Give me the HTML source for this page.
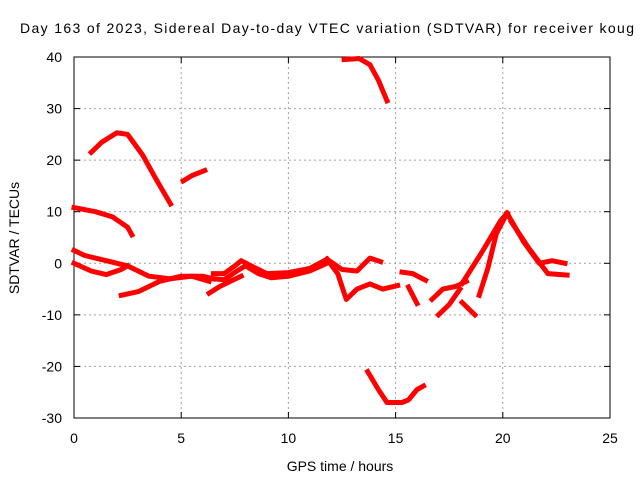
<!DOCTYPE html>
<html><head><meta charset="utf-8"><style>body{margin:0;background:#fff}svg{display:block;font-family:"Liberation Sans",sans-serif}</style></head>
<body>
<svg id="chart" width="640" height="480">
<rect width="640" height="480" fill="#fff"/>
<g id="grid"></g>
<g id="axes"></g>
<g id="series"></g>
<text x="327" y="33" text-anchor="middle" font-size="14" textLength="614">Day 163 of 2023, Sidereal Day-to-day VTEC variation (SDTVAR) for receiver koug</text>
<text x="340" y="471" text-anchor="middle" font-size="14">GPS time / hours</text>
<text transform="translate(19,238) rotate(-90)" text-anchor="middle" font-size="14">SDTVAR / TECUs</text>
</svg>
<script>
const xTicks=[0,5,10,15,20,25];
const yTicks=[-30,-20,-10,0,10,20,30,40];
const trackHours=[
[0.8,1.3,2.0,2.5,3.2,3.8,4.5],
[5.1,5.5,6.1],
[12.6,13.3,13.8,14.2,14.6],
[0,1,1.8,2.5,2.7],
[0,0.5,1.5,2.5,3.5,4.5,5.5,6.3],
[0,0.8,1.5,2.2,2.5],
[2.2,3,4,5,6,6.5],
[6.5,7,7.5,7.8,8.5,9,10,11,11.8],
[6.5,7,7.6,8,8.6,9.2,10,11,11.8],
[6.3,6.8,7.3,7.8],
[11.8,12.3,12.7,13.2,13.8,14.4,15.1],
[11.8,12.5,13.2,13.8,14.3],
[15.3,15.8,16.4],
[15.6,16.0],
[16.7,17.2,17.8,18.3],
[17.0,17.5,18.0],
[18.1,18.7],
[18.1,19.0,19.9,20.2],
[18.9,19.3,19.7,20.2],
[20.2,21.0,21.7,22.3,22.9],
[20.4,21.2,22.1,23.0],
[13.7,14.2,14.6,15.3,15.6,16.0,16.3]
];
const trackValues=[
[21.5,23.5,25.3,25,21,16.5,11.5],
[16,17,18],
[39.5,39.7,38.5,35.5,31.5],
[10.8,10,9,7,5.5],
[2.5,1.5,0.5,-0.5,-2.5,-3,-2.5,-3.5],
[0,-1.5,-2.2,-1.2,-0.5],
[-6.2,-5.5,-3.5,-2.5,-2.5,-3],
[-2,-2,-0.5,0.5,-1,-2,-1.8,-1,0.8],
[-3,-3.2,-1.5,-0.5,-2,-2.8,-2.5,-1.5,0],
[-5.8,-4.5,-3.5,-2.5],
[0.8,-2,-7,-5,-4,-5,-4.3],
[0.8,-1.2,-1.5,1,0.3],
[-1.7,-2,-3.3],
[-4.6,-7.8],
[-7,-5,-4.5,-3.5],
[-10,-8,-5],
[-7.6,-10],
[-3.9,2,8.3,9.7],
[-6.2,-1,5.8,9.7],
[9.7,4,0,0.5,0],
[8,3,-2,-2.3],
[-21,-24.5,-27,-27,-26.5,-24.5,-23.8]
];
const X0=74,X1=610,Y0=418,Y1=57;
const xs=h=>X0+(h-0)/(25-0)*(X1-X0);
const ys=v=>Y0-(v+30)/70*(Y0-Y1);
const NS='http://www.w3.org/2000/svg';
const grid=document.getElementById('grid'),axes=document.getElementById('axes'),ser=document.getElementById('series');
function mk(tag,at,parent){const e=document.createElementNS(NS,tag);for(const k in at)e.setAttribute(k,at[k]);parent.appendChild(e);return e;}
xTicks.forEach(t=>{const x=xs(t);
 if(t>0&&t<25){const l=mk('line',{x1:x,x2:x,y1:Y1,y2:Y0,stroke:'#a0a0a0','stroke-dasharray':'2,3'},grid);}
 mk('line',{x1:x,x2:x,y1:Y0,y2:Y0-6,stroke:'#000'},axes);mk('line',{x1:x,x2:x,y1:Y1,y2:Y1+6,stroke:'#000'},axes);
 const tx=mk('text',{x:x,y:443,'text-anchor':'middle','font-size':14},axes);tx.textContent=t;
 });
yTicks.forEach(t=>{const y=ys(t);
 if(t>-30&&t<40){const l=mk('line',{x1:X0,x2:X1,y1:y,y2:y,stroke:'#a0a0a0','stroke-dasharray':'2,3'},grid);}
 mk('line',{x1:X0,x2:X0+6,y1:y,y2:y,stroke:'#000'},axes);mk('line',{x1:X1,x2:X1-6,y1:y,y2:y,stroke:'#000'},axes);
 const tx=mk('text',{x:62,y:y+5,'text-anchor':'end','font-size':14},axes);tx.textContent=t;
 });
const fr=mk('rect',{x:X0,y:Y1,width:X1-X0,height:Y0-Y1,fill:'none',stroke:'#000'},axes);

trackHours.forEach((hs,i)=>{const vs=trackValues[i];
 const pts=hs.map((h,j)=>xs(h).toFixed(1)+','+ys(vs[j]).toFixed(1)).join(' ');
 const p=mk('polyline',{points:pts,fill:'none',stroke:'#ff0000','stroke-width':5,'stroke-linejoin':'round','stroke-linecap':'square'},ser);
 });
</script>
</body></html>
